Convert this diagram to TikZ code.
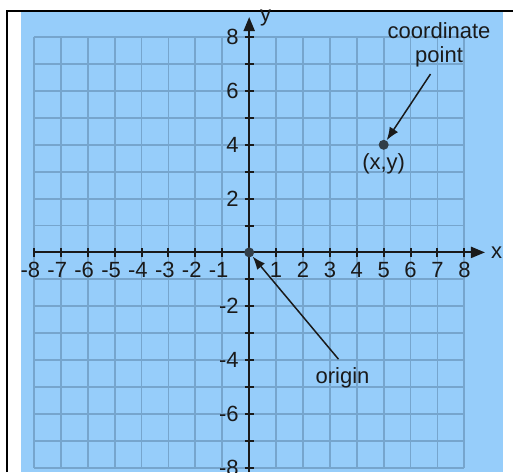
\documentclass[tikz,border=0pt]{standalone}
\usepackage{fontspec}
\setmainfont{Liberation Sans}
\usetikzlibrary{arrows.meta}
\definecolor{skyfill}{RGB}{150,205,250}
\definecolor{gridline}{RGB}{118,165,205}
\definecolor{axisink}{RGB}{26,26,26}
\definecolor{dotfill}{RGB}{50,62,72}

\begin{document}
\begin{tikzpicture}[
  x=13.45pt, y=13.45pt,
  font=\fontsize{11}{12}\selectfont,
  gridlines/.style={draw=gridline, line width=0.9pt},
  axisline/.style={draw=axisink, line width=1pt, -{Triangle[length=7pt, width=5.5pt]}},
  tickmark/.style={draw=axisink, line width=1pt},
  ticklabel/.style={inner sep=0pt, text=axisink},
  dotpoint/.style={circle, fill=dotfill, inner sep=0pt, minimum size=5pt},
  pointer/.style={draw=axisink, line width=0.75pt, -{Latex[length=6.5pt, width=5pt]}},
  caption/.style={inner sep=0pt, align=center, text=axisink},
]

  % Page and background
  \useasboundingbox (-9.264,-8.164) rectangle (9.807,9.383);
  \fill[skyfill] (-8.483,-8.164) rectangle (9.424,8.974);
  \draw[black, line width=1.2pt] (-9.004,-8.164) -- (-9.004,8.985) -- (9.807,8.985);

  % Grid
  \foreach \i in {-8,...,8} {
    \draw[gridlines] (\i,-8) -- (\i,8);
    \draw[gridlines] (-8,\i) -- (8,\i);
  }

  % Axes
  \draw[axisline] (-8,0) -- (8.766,0);
  \draw[axisline] (0,-8.164) -- (0,8.75);
  \node[ticklabel] (xname) at (9.2,0) {x};
  \node[ticklabel] (yname) at (0.61,8.70) {y};

  % Tick marks
  \foreach \i in {-8,...,8} {
    \draw[tickmark] (\i,-0.167) -- (\i,0.167);
    \draw[tickmark] (-0.167,\i) -- (0.167,\i);
  }

  % Tick labels
  \foreach \i in {1,...,8} {
    \node[ticklabel] (xpos\i) at (\i,-0.654) {\i};
    \node[ticklabel] (xneg\i) at (-\i,-0.654) {\llap{-}\i};
  }
  \foreach \j in {2,4,6,8} {
    \node[ticklabel, anchor=east] (ypos\j) at (-0.38,\j) {\j};
    \node[ticklabel, anchor=east] (yneg\j) at (-0.38,-\j) {-\j};
  }

  % Points
  \node[dotpoint] (origin) at (0,0) {};
  \node[dotpoint] (cpoint) at (5,4) {};
  \node[ticklabel] (cpointlabel) at (5,3.31) {(x,y)};

  % Captions with pointers
  \node[caption] (cpcaption) at (7.06,7.71) {coordinate\\point};
  \coordinate (cptail) at (6.74,6.63);
  \draw[pointer] (cptail) -- (cpoint);

  \node[caption] (origincaption) at (3.47,-4.66) {origin};
  \coordinate (origintail) at (3.32,-3.97);
  \draw[pointer] (origintail) -- (origin);

\end{tikzpicture}
\end{document}
